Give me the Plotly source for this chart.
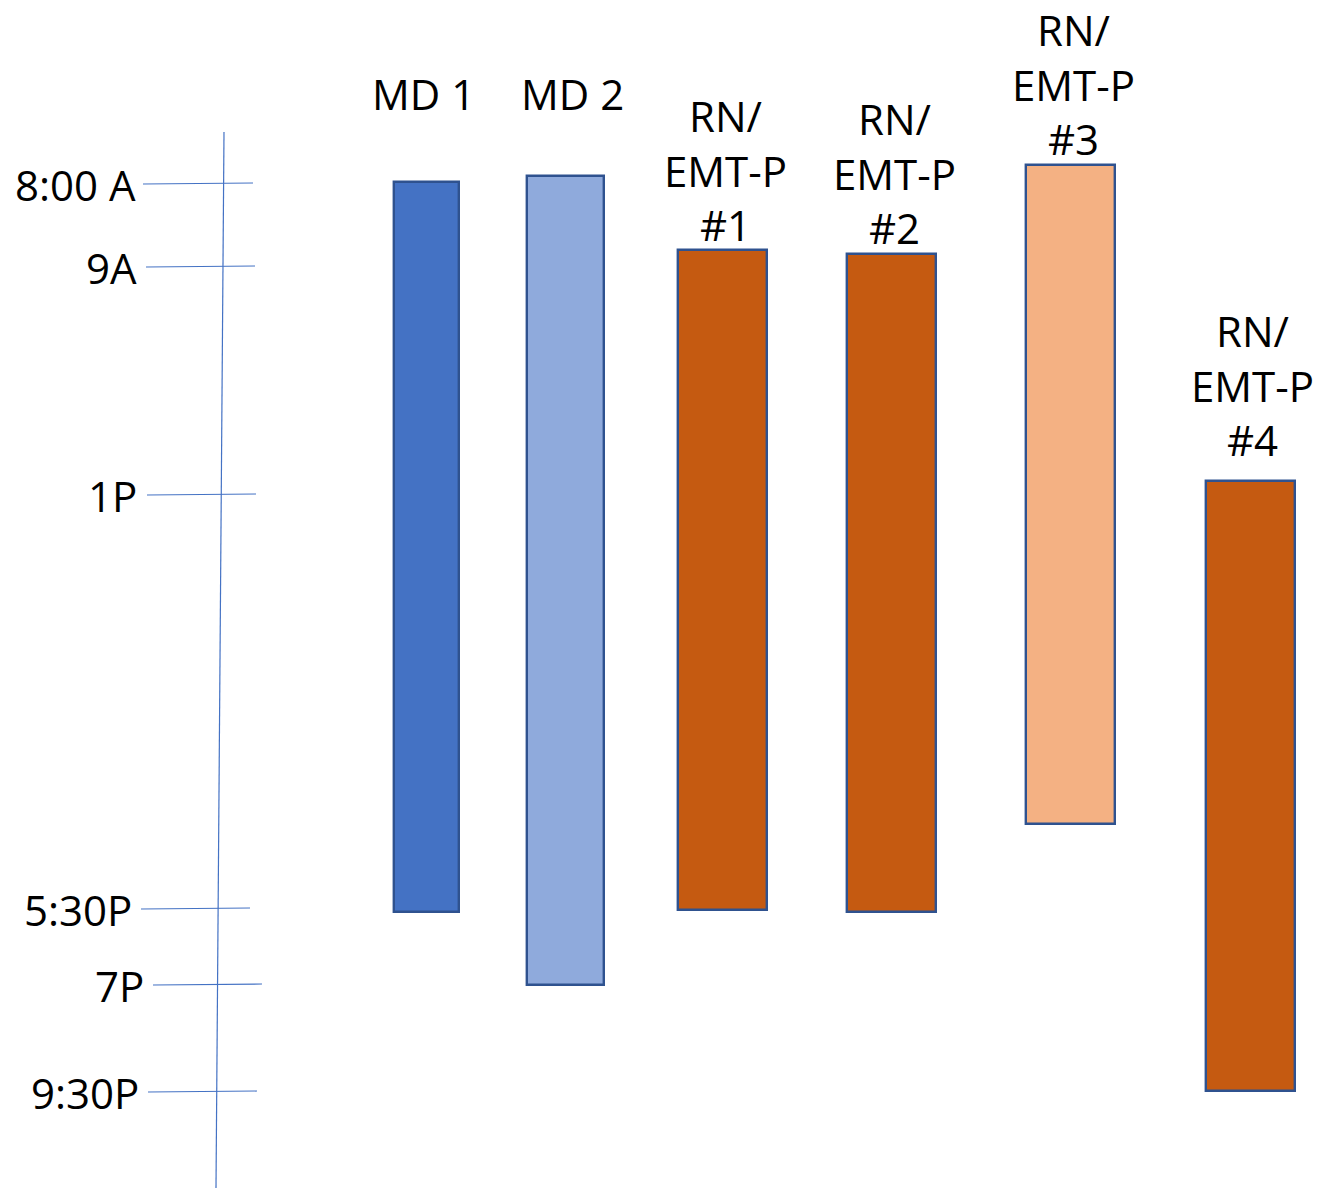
import plotly.graph_objects as go

# Staff shifts drawn on a vertical schedule scale (top = earlier in the day)
staff = ["MD 1", "MD 2", "RN/<br>EMT-P<br>#1", "RN/<br>EMT-P<br>#2",
         "RN/<br>EMT-P<br>#3", "RN/<br>EMT-P<br>#4"]
shift_start = [182, 176, 250, 254, 165, 481]
shift_end = [912, 985, 910, 912, 824, 1091]

# Time marks along the schedule scale
tick_labels = ["8:00 A", "9A", "1P", "5:30P", "7P", "9:30P"]
tick_pos = [184, 267, 495, 909, 985, 1092]

# Layout / styling
bar_x = [426, 565, 722, 891, 1070, 1250]
bar_w = [65, 77, 89, 89, 89, 89]
bar_fill = ["#4472C4", "#8FAADC", "#C55A11", "#C55A11", "#F4B183", "#C55A11"]
edge_col = "#2F528F"
axis_col = "#4472C4"
label_x = [423, 572, 725, 894, 1073, 1252]
label_y = [93, 93, 170, 173, 84, 385]
tick_x0 = [143, 146, 147, 141, 153, 148]
tick_x1 = [253, 255, 256, 250, 262, 257]
tick_text_x = [138, 139, 139, 134, 146, 141]
FONT = "Open Sans"
FS = 42

fig = go.Figure()

# schedule axis line (slightly slanted)
fig.add_trace(go.Scatter(x=[224, 216], y=[132, 1188], mode="lines",
                         line=dict(color=axis_col, width=1.2),
                         hoverinfo="skip", showlegend=False))

# tick lines
tx, ty = [], []
for x0, x1, p in zip(tick_x0, tick_x1, tick_pos):
    tx += [x0, x1, None]
    ty += [p, p - 1, None]
fig.add_trace(go.Scatter(x=tx, y=ty, mode="lines",
                         line=dict(color=axis_col, width=1.2),
                         hoverinfo="skip", showlegend=False))

# shift bars
fig.add_trace(go.Bar(
    x=bar_x,
    base=shift_start,
    y=[e - s for s, e in zip(shift_start, shift_end)],
    width=bar_w,
    marker=dict(color=bar_fill, line=dict(color=edge_col, width=2.4)),
    showlegend=False,
))

annotations = []
for name, x, y in zip(staff, label_x, label_y):
    annotations.append(dict(x=x, y=y, text=name, showarrow=False,
                            xanchor="center", yanchor="middle",
                            font=dict(family=FONT, size=FS, color="black")))
for lab, x, p in zip(tick_labels, tick_text_x, tick_pos):
    annotations.append(dict(x=x, y=p, text=lab, showarrow=False,
                            xanchor="right", yanchor="middle",
                            font=dict(family=FONT, size=FS, color="black")))

fig.update_layout(
    width=1320, height=1188,
    margin=dict(l=0, r=0, t=0, b=0),
    paper_bgcolor="white", plot_bgcolor="white",
    xaxis=dict(range=[0, 1320], visible=False, fixedrange=True),
    yaxis=dict(range=[1188, 0], visible=False, fixedrange=True),
    annotations=annotations,
    bargap=0,
)

fig.write_html("out.html")
